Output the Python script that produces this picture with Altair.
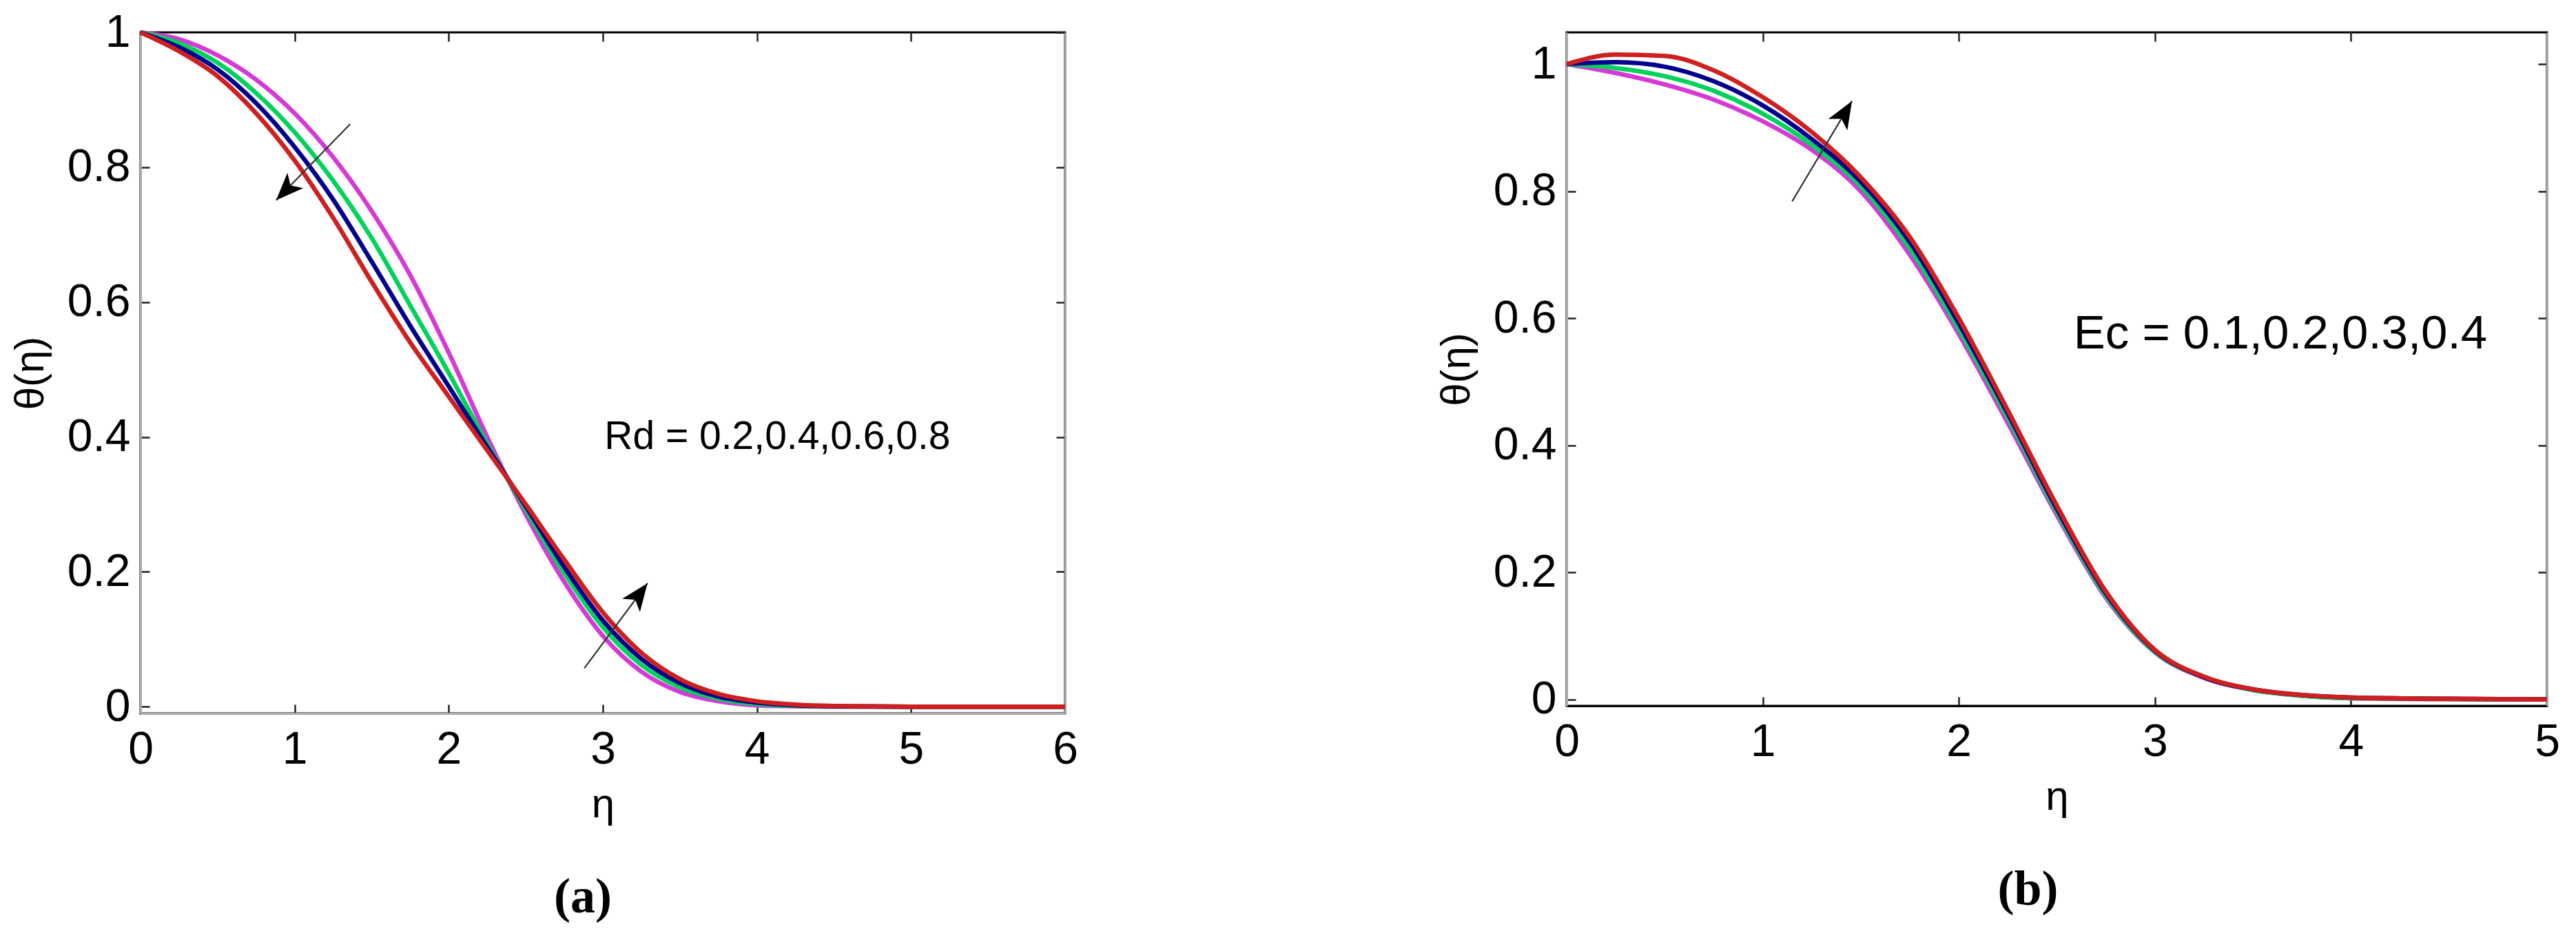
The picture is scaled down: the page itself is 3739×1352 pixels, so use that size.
import math
import altair as alt
import pandas as pd

# ---------------- data ----------------
eta_a = [0, 0.25, 0.5, 0.75, 1.0, 1.25, 1.5, 1.75, 2.0, 2.25, 2.5, 2.75,
         3.0, 3.25, 3.5, 3.75, 4.0, 4.25, 4.5, 5.0, 5.5, 6.0]
rd_names = ["0.2", "0.4", "0.6", "0.8"]
rd_02 = [1.0, 0.99, 0.966, 0.93, 0.88, 0.815, 0.735, 0.64, 0.525, 0.40, 0.285, 0.185,
         0.105, 0.052, 0.022, 0.008, 0.002, 0.0005, 0.0, 0.0, 0.0, 0.0]
rd_04 = [1.0, 0.984, 0.955, 0.91, 0.852, 0.78, 0.695, 0.595, 0.495, 0.39, 0.292, 0.198,
         0.118, 0.062, 0.029, 0.012, 0.004, 0.0012, 0.0003, 0.0, 0.0, 0.0]
rd_06 = [1.0, 0.978, 0.945, 0.895, 0.83, 0.752, 0.66, 0.565, 0.475, 0.385, 0.297, 0.207,
         0.128, 0.071, 0.035, 0.015, 0.006, 0.002, 0.0007, 0.0, 0.0, 0.0]
rd_08 = [1.0, 0.972, 0.935, 0.88, 0.81, 0.725, 0.63, 0.54, 0.46, 0.38, 0.30, 0.218,
         0.14, 0.08, 0.041, 0.019, 0.008, 0.003, 0.001, 0.0, 0.0, 0.0]

eta_b = [0, 0.25, 0.5, 0.75, 1.0, 1.25, 1.5, 1.75, 2.0, 2.25, 2.5, 2.75,
         3.0, 3.25, 3.5, 3.75, 4.0, 4.5, 5.0]
ec_names = ["0.1", "0.2", "0.3", "0.4"]
ec_01 = [1.0, 0.986, 0.968, 0.944, 0.91, 0.865, 0.80, 0.70, 0.575, 0.435, 0.29, 0.16,
         0.074, 0.034, 0.015, 0.006, 0.002, 0.0005, 0.0]
ec_02 = [1.0, 0.994, 0.981, 0.958, 0.922, 0.873, 0.808, 0.71, 0.583, 0.443, 0.295, 0.163,
         0.075, 0.035, 0.015, 0.006, 0.002, 0.0007, 0.0]
ec_03 = [1.0, 1.003, 0.996, 0.973, 0.935, 0.882, 0.815, 0.72, 0.592, 0.45, 0.30, 0.167,
         0.077, 0.035, 0.016, 0.007, 0.003, 0.001, 0.0]
ec_04 = [1.0, 1.015, 1.013, 0.99, 0.948, 0.893, 0.822, 0.728, 0.60, 0.455, 0.305, 0.17,
         0.078, 0.036, 0.016, 0.007, 0.003, 0.001, 0.0]

line_colors = ["#d63ad6", "#00d25a", "#00008f", "#cf1f1f"]

x_ticks_a = [0, 1, 2, 3, 4, 5, 6]
x_ticks_b = [0, 1, 2, 3, 4, 5]
y_ticks = [0, 0.2, 0.4, 0.6, 0.8, 1]

note_a = "Rd = 0.2,0.4,0.6,0.8"
note_b = "Ec = 0.1,0.2,0.3,0.4"

# arrows: start (x0, y0) -> tip (x1, y1)
arrows_a_x0 = [1.36, 2.88]
arrows_a_y0 = [0.864, 0.057]
arrows_a_x1 = [0.88, 3.29]
arrows_a_y1 = [0.751, 0.183]
arrows_b_x0 = [1.15]
arrows_b_y0 = [0.784]
arrows_b_x1 = [1.455]
arrows_b_y1 = [0.942]

SANS = "Liberation Sans"
HEAD = "M0,0 L0.8,2 L0,1.5 L-0.8,2 Z"


def panel(eta, series, names, xmax, ydom, W, H, xticks, note, note_x, note_y,
          note_size, ax0, ay0, ax1, ay1, xdom_color, label, label_dx):
    rows = []
    for name, vals in zip(names, series):
        for e, v in zip(eta, vals):
            rows.append({"eta": e, "theta": v, "series": name})
    df = pd.DataFrame(rows)

    xs = alt.Scale(domain=[0, xmax], nice=False, zero=False)
    ys = alt.Scale(domain=ydom, nice=False, zero=False)

    AX = alt.Axis(values=xticks, title="η", format="~g", labelFont=SANS,
                  labelFontSize=66, labelColor="black", labelPadding=20,
                  ticks=False, domainColor=xdom_color, domainWidth=3,
                  grid=True, gridDash=[13, H - 26, 13, H + 200], gridColor="#222",
                  gridWidth=2.5, gridOpacity=1, titleFont=SANS, titleFontSize=60,
                  titleFontWeight="normal", titleColor="black", titlePadding=18,
                  labelFlush=False)
    AY = alt.Axis(values=y_ticks, title="θ(η)", format="~g", labelFont=SANS,
                  labelFontSize=66, labelColor="black", labelPadding=15,
                  ticks=False, domainColor="#aaaaaa", domainWidth=3,
                  grid=True, gridDash=[13, W - 26, 13, W + 200], gridColor="#222",
                  gridWidth=2.5, gridOpacity=1, titleFont=SANS, titleFontSize=60,
                  titleFontWeight="normal", titleColor="black", titlePadding=22,
                  labelFlush=False)
    AYR = alt.Axis(orient="right", labels=False, ticks=False, title=None, grid=False,
                   domainColor="#aaaaaa", domainWidth=3)

    lines = alt.Chart(df).mark_line(strokeWidth=6.5, interpolate="monotone").encode(
        x=alt.X("eta:Q", scale=xs, axis=AX),
        y=alt.Y("theta:Q", scale=ys, axis=AY),
        color=alt.Color("series:N", scale=alt.Scale(domain=names, range=line_colors),
                        legend=None),
    )

    # arrow geometry in pixel space for the head angle
    angs = []
    for a, b, c, d in zip(ax0, ay0, ax1, ay1):
        dx = (c - a) / xmax * W
        dy = -(d - b) / (ydom[1] - ydom[0]) * H
        angs.append(math.degrees(math.atan2(dx, -dy)) % 360)
    adf = pd.DataFrame({"x0": ax0, "y0": ay0, "x1": ax1, "y1": ay1, "ang": angs})

    shafts = alt.Chart(adf).mark_rule(color="#333333", strokeWidth=2.2).encode(
        x=alt.X("x0:Q", scale=xs, axis=AX),
        y=alt.Y("y0:Q", scale=ys, axis=AY),
        x2="x1:Q", y2="y1:Q",
    )
    heads = alt.Chart(adf).mark_point(shape=HEAD, size=1600, filled=True,
                                      color="black", opacity=1, strokeWidth=0).encode(
        x=alt.X("x1:Q", scale=xs, axis=AX),
        y=alt.Y("y1:Q", scale=ys, axis=AY),
        angle=alt.Angle("ang:Q", scale=None),
    )

    ndf = pd.DataFrame({"x": [note_x], "y": [note_y], "t": [note]})
    text = alt.Chart(ndf).mark_text(align="left", baseline="middle", font=SANS,
                                    fontSize=note_size, color="black").encode(
        x=alt.X("x:Q", scale=xs, axis=AX),
        y=alt.Y("y:Q", scale=ys, axis=AYR),
        text="t:N",
    )

    inner = alt.layer(lines, shafts, heads)
    return alt.layer(inner, text).resolve_scale(y="independent").properties(
        width=W, height=H,
        title=alt.TitleParams(text=label, orient="bottom", font="Liberation Serif",
                              fontSize=72, fontWeight="bold", color="black",
                              offset=70, anchor="middle", frame="group", dx=label_dx),
    )


pa = panel(eta_a, [rd_02, rd_04, rd_06, rd_08], rd_names, 6, [-0.01, 1.0], 1342, 989,
           x_ticks_a, note_a, 3.01, 0.40, 57,
           arrows_a_x0, arrows_a_y0, arrows_a_x1, arrows_a_y1, "#aaaaaa", "(a)", -29)
pb = panel(eta_b, [ec_01, ec_02, ec_03, ec_04], ec_names, 5, [-0.01, 1.05], 1423, 978,
           x_ticks_b, note_b, 2.585, 0.575, 69,
           arrows_b_x0, arrows_b_y0, arrows_b_x1, arrows_b_y1, "black", "(b)", -42)

chart = alt.hconcat(pa, pb, spacing=516).resolve_scale(color="independent").properties(
    padding={"left": 4, "top": 4, "right": 5, "bottom": 5},
    background="white",
).configure_view(stroke="black", strokeWidth=3)

chart.save("out.html", embed_options={"renderer": "svg", "actions": False})
